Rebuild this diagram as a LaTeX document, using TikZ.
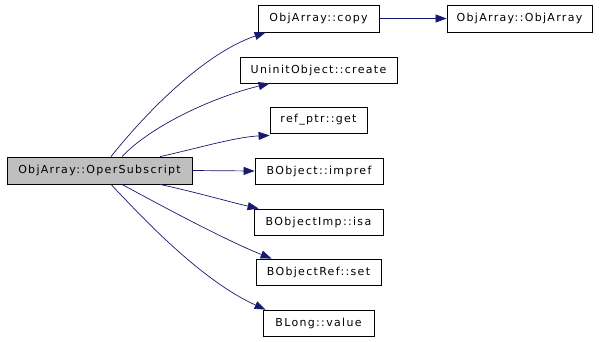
\documentclass[tikz,border=0pt]{standalone}
\usepackage{fontspec}
\setmainfont{DejaVu Sans}[LetterSpace=12]
\usetikzlibrary{arrows.meta}
\definecolor{edgec}{HTML}{191970}
\begin{document}
\begin{tikzpicture}[x=1pt,y=-1pt,
  box/.style={draw=black,line width=0.8pt,fill=white,inner sep=0pt,font=\fontsize{11}{13}\selectfont},
  mainbox/.style={box,fill=black!25},
  edge/.style={draw=edgec,line width=0.7pt,-{Triangle[length=11pt,width=8pt]}}]
\useasboundingbox (0,0) rectangle (600,341);
\node[mainbox,minimum width=185pt,minimum height=27pt] (main) at (99.5,170.5) {ObjArray::OperSubscript};
\node[box,minimum width=121pt,minimum height=27pt] (copy) at (318.5,18.5) {ObjArray::copy};
\node[box,minimum width=145pt,minimum height=27pt] (ctor) at (519.5,18.5) {ObjArray::ObjArray};
\node[box,minimum width=157pt,minimum height=26pt] (create) at (318.5,70) {UninitObject::create};
\node[box,minimum width=97pt,minimum height=26pt] (get) at (318.5,120) {ref\_ptr::get};
\node[box,minimum width=128pt,minimum height=26pt] (impref) at (319,171) {BObject::impref};
\node[box,minimum width=129pt,minimum height=26pt] (isa) at (318.5,222) {BObjectImp::isa};
\node[box,minimum width=125pt,minimum height=26pt] (set) at (318.5,272) {BObjectRef::set};
\node[box,minimum width=111pt,minimum height=26pt] (value) at (318.5,323) {BLong::value};
\draw[edge] ([xshift=11.5pt]main.north) .. controls (140,120) and (200,55) .. ([xshift=8pt]copy.south west);
\draw[edge] ([xshift=22.5pt]main.north) .. controls (150,127) and (210,98) .. ([xshift=30pt]create.south west);
\draw[edge] ([xshift=60.5pt]main.north) .. controls (195,149) and (235,137) .. ([yshift=-2pt]get.south west);
\draw[edge] (main.east) -- (impref.west);
\draw[edge] ([xshift=60.5pt]main.south) .. controls (195,192) and (230,202) .. ([xshift=5pt]isa.north west);
\draw[edge] ([xshift=22.5pt]main.south) .. controls (160,205) and (225,240) .. ([xshift=16pt]set.north west);
\draw[edge] ([xshift=11.5pt]main.south) .. controls (140,215) and (200,280) .. ([xshift=3pt]value.north west);
\draw[edge] (copy.east) -- (ctor.west);
\end{tikzpicture}
\end{document}
